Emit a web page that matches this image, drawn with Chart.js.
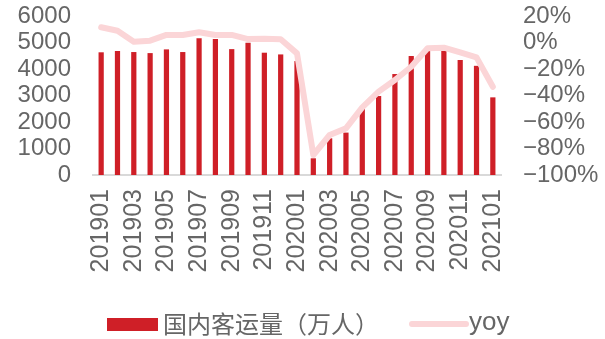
<!DOCTYPE html>
<html>
<head>
<meta charset="utf-8">
<script src="https://cdn.jsdelivr.net/npm/chart.js@4/dist/chart.umd.min.js"></script>
<style>
html,body{margin:0;padding:0;background:#fff;}
#wrap{width:605px;height:339px;position:relative;}
</style>
</head>
<body>
<div id="wrap"><canvas id="passengerChart" width="605" height="339"></canvas></div>
<script>
/* ---------- DATA ---------- */

const months = ["201901","201902","201903","201904","201905","201906","201907","201908","201909","201910","201911","201912",
"202001","202002","202003","202004","202005","202006","202007","202008","202009","202010","202011","202012","202101"];

// domestic passengers, 10k people
const passengers = [4630,4680,4640,4600,4740,4640,5160,5130,4750,4990,4615,4550,
4300,630,1385,1600,2490,2980,3810,4490,4690,4740,4340,4120,2930];

// year over year change, %
const yoy = [11.5,8.9,0.6,1.4,5.7,5.7,7.7,5.7,5.7,2.6,2.9,2.4,
-8.2,-84.9,-69.8,-64.8,-48.9,-37.1,-28.3,-18.3,-4.4,-3.9,-7.4,-11.2,-33.4];

const barLabel = "国内客运量（万人）";
const lineLabel = "yoy";

const barColor = "#cf1f27";
const lineColor = "#fbd5d7";
const textColor = "#666666";


/* ---------- LEGEND DRAWN UNDER THE AXIS ---------- */

const bottomLegend = {
id:"bottomLegend",
afterDraw(chart){
const c = chart.ctx;
c.save();
c.fillStyle = barColor;
c.fillRect(107,318,51,13);
c.fillStyle = textColor;
c.textBaseline = "middle";
c.font = "24px 'Noto Sans CJK SC', sans-serif";
c.fillText(barLabel,163,324);
c.strokeStyle = lineColor;
c.lineWidth = 6;
c.lineCap = "round";
c.beginPath();
c.moveTo(412,324);
c.lineTo(466,324);
c.stroke();
c.font = "26px 'Liberation Sans', Arial, sans-serif";
c.fillText(lineLabel,469,323);
c.restore();
}
};

// y axes: fixed width, no extra room for half labels
function fitY(width){
return function(scale){
scale.width = width;
scale.paddingTop = 0;
scale.paddingBottom = 0;
};
}


/* ---------- CHART ---------- */

const ctx = document.getElementById("passengerChart").getContext("2d");

new Chart(ctx,{
data:{
labels:months,
datasets:[
{
type:"line",
label:lineLabel,
data:yoy,
yAxisID:"y1",
borderColor:lineColor,
backgroundColor:lineColor,
borderWidth:6,
borderCapStyle:"round",
borderJoinStyle:"round",
pointRadius:0,
tension:0,
order:0
},
{
type:"bar",
label:barLabel,
data:passengers,
yAxisID:"y",
backgroundColor:barColor,
categoryPercentage:1,
barPercentage:0.32,
order:1
}
]
},
options:{
responsive:false,
animation:false,
layout:{padding:{top:16,left:0,right:0,bottom:0}},
plugins:{
legend:{display:false},
tooltip:{enabled:false}
},
scales:{
x:{
grid:{display:false,drawTicks:false},
border:{display:true,color:"#d9d9d9",width:2},
afterFit(scale){ scale.height = 164 },
ticks:{
color:textColor,
font:{family:"'Liberation Sans', Arial, sans-serif",size:25},
minRotation:90,
maxRotation:90,
autoSkip:false,
padding:14,
callback(v,i){ return i % 2 === 0 ? months[i] : "" }
}
},
y:{
position:"left",
min:0,
max:6000,
grid:{display:false,drawTicks:false},
border:{display:false},
afterFit:fitY(93),
ticks:{
stepSize:1000,
autoSkip:false,
color:textColor,
font:{family:"'Liberation Sans', Arial, sans-serif",size:24},
padding:22,
callback(v){ return String(v) }
}
},
y1:{
position:"right",
min:-100,
max:20,
grid:{display:false,drawTicks:false},
border:{display:false},
afterFit:fitY(104),
ticks:{
stepSize:20,
autoSkip:false,
color:textColor,
font:{family:"'Liberation Sans', Arial, sans-serif",size:24},
padding:22,
callback(v){ return (v < 0 ? "\u2212" : "") + Math.abs(v) + "%" }
}
}
}
},
plugins:[bottomLegend]
})
</script>
</body>
</html>
